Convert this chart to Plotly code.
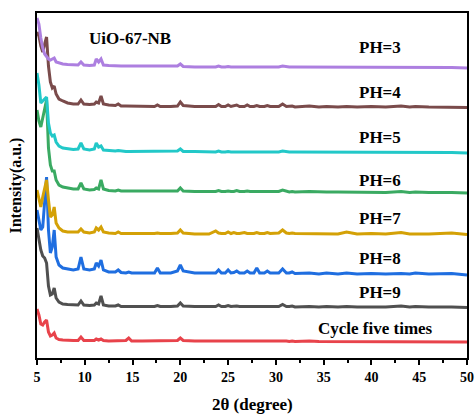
import plotly.graph_objects as go

# 2-theta grid (degrees)
two_theta = [
    5.0, 5.2, 5.4, 5.6, 5.8, 6.0, 6.2, 6.4, 6.6, 6.8,
    7.0, 7.3, 7.7, 8.2, 8.8, 9.3, 9.6, 9.9, 10.5, 11.0,
    11.2, 11.45, 11.7, 11.95, 12.5, 13.2, 13.5, 13.8, 14.3, 14.6,
    14.9, 16.0, 17.3, 17.6, 17.9, 19.0, 19.7, 20.0, 20.3, 21.5,
    23.0, 23.7, 24.0, 24.3, 24.7, 25.0, 25.3, 25.6, 25.9, 26.2,
    26.7, 27.0, 27.3, 27.7, 28.0, 28.3, 28.8, 29.1, 29.4, 30.3,
    30.7, 31.1, 31.4, 31.7, 32.0, 33.5, 34.5, 35.3, 36.5, 37.4,
    38.5, 40.0, 41.5, 43.1, 44.0, 44.6, 46.0, 48.4, 50.0,
]

# intensities (a.u., relative to each pattern's baseline)
ph3 = [
    50, 44, 30, 20, 14, 11, 9, 8, 9, 10,
    6, 5, 4, 3.5, 3, 3, 6, 3, 2.5, 3,
    9, 6, 9, 3, 2.5, 2, 2.5, 2, 2, 2,
    1.5, 1.5, 1.5, 1.5, 1.5, 1.5, 2, 4, 1.5, 1,
    1, 1, 2, 1, 1, 1.5, 1, 1, 1.5, 1,
    1, 1.5, 1, 1, 1, 1, 1, 1, 1, 1,
    2, 1, 1, 1, 1, 1, 0.5, 1, 0.5, 0.5,
    0.5, 0.5, 0.5, 1, 0.5, 0.5, 0.5, 0.5, 0,
]
ph4 = [
    76, 72, 62, 56, 64, 71, 42, 26, 20, 22,
    14, 9, 7, 5, 4, 4, 8, 4, 3.5, 4,
    6, 5, 12, 4, 3, 2.5, 4, 2, 2, 2,
    2, 1.5, 1.5, 3, 1.5, 1.5, 2, 6, 2.5, 1.5,
    1.5, 1.5, 3.5, 1.5, 1.5, 3, 1.5, 2, 3, 1.5,
    1.5, 3, 1.5, 1.5, 2.5, 1.5, 1.5, 2.5, 1.5, 1.5,
    4, 1.5, 1.5, 2, 1, 2, 1, 1.5, 1, 1.5,
    1, 1.5, 1, 2, 1, 1.5, 1, 1, 0.5,
]
ph5 = [
    80, 68, 50, 52, 55, 56, 30, 20, 17, 18,
    11, 7, 5, 4, 3.5, 4, 10, 4, 3, 4,
    10, 6, 7, 3, 2.5, 2, 2.5, 2, 1.5, 1.5,
    1.5, 1.5, 1.5, 2, 1.5, 1.5, 2, 4, 1.5, 1.5,
    1, 1, 2, 1, 1, 1.5, 1, 1, 1.5, 1,
    1, 1.5, 1, 1, 1.5, 1, 1, 1.5, 1, 1,
    2, 1, 1, 1, 1, 1, 0.5, 1, 0.5, 0.5,
    0.5, 0.5, 0.5, 1, 0.5, 0.5, 0.5, 0.5, 0,
]
ph6 = [
    83, 72, 66, 75, 86, 93, 45, 28, 22, 22,
    13, 8, 6, 5, 4, 4, 10, 4, 3, 3.5,
    5, 4, 13, 4, 2.5, 2, 3, 2, 2, 2,
    1.5, 1.5, 1.5, 2, 1.5, 1.5, 2, 5, 2, 1.5,
    1.5, 1.5, 2.5, 1.5, 1.5, 2, 1.5, 1.5, 2.5, 1.5,
    1.5, 2, 1.5, 1.5, 2, 1.5, 1.5, 2, 1.5, 1.5,
    3, 1.5, 1, 1.5, 1, 1.5, 1, 1, 1, 1,
    1, 1, 0.5, 1.5, 0.5, 1, 0.5, 0.5, 0,
]
ph7 = [
    45, 36, 28, 38, 48, 55, 35, 18, 20, 28,
    12, 7, 4, 3, 3, 3, 6, 3, 2, 3,
    7, 5, 8, 3, 2, 1.5, 3, 1.5, 1.5, 1.5,
    1.5, 1, 1.5, 2, 1.5, 1.5, 2, 5, 2, 1,
    1, 4, 2, 1.5, 1.5, 3, 1.5, 2.5, 1.5, 1.5,
    2.5, 1.5, 1.5, 1.5, 2.5, 1.5, 1.5, 2.5, 1.5, 2,
    5, 2, 1.5, 2, 1.5, 1.5, 1, 1.5, 1, 3,
    1, 1.5, 1, 2.5, 1, 1, 1, 2, 0.5,
]
ph8 = [
    65, 55, 45, 48, 75, 98, 45, 22, 28, 45,
    18, 10, 7, 6, 5, 6, 18, 6, 5, 6,
    12, 9, 15, 5, 3, 3, 5, 2.5, 2, 3,
    2, 2, 2, 7, 2, 2, 4, 10, 4, 2,
    1.5, 2, 5, 2, 2, 5, 2, 2.5, 4, 2,
    2, 4, 2, 2, 7, 2, 2, 4, 2, 2,
    6, 2, 2, 3, 1.5, 2, 1, 2, 1, 2,
    1, 1.5, 1, 1.5, 1, 2, 1, 1.5, 0,
]
ph9 = [
    80, 70, 58, 52, 50, 45, 22, 13, 14, 20,
    10, 6, 4, 3.5, 3, 3, 7, 3, 2.5, 3,
    5, 4, 12, 3, 2, 2, 3, 1.5, 1.5, 1.5,
    1.5, 1.5, 1.5, 2.5, 1.5, 1.5, 2, 5, 2, 1.5,
    1.5, 1.5, 3, 1.5, 1.5, 2.5, 1.5, 2, 2, 1.5,
    1.5, 2, 1.5, 1.5, 2, 1.5, 1.5, 2, 1.5, 1.5,
    3.5, 1.5, 1.5, 2, 1, 1.5, 1, 1.5, 1, 1.5,
    1, 1, 1, 2, 1, 1.5, 1, 1, 0.5,
]
cycle5 = [
    33, 27, 18, 17, 20, 22, 10, 6, 7, 9,
    4, 2.5, 2, 1.5, 1.5, 1.5, 5, 1.5, 1.5, 1.5,
    3, 2, 3, 1.5, 1, 1, 1, 1, 1.5, 4,
    1, 1, 1, 1.5, 1, 1, 1.5, 4, 1.5, 1,
    1, 1, 1.5, 1, 1, 1.5, 1, 1, 1, 1,
    1, 1, 1, 1, 1.5, 1, 1, 1, 1, 1,
    1.5, 1, 0.5, 1, 0.5, 1, 0.5, 0.5, 0.5, 0.5,
    0.5, 0.5, 0.5, 0.5, 0.5, 0.5, 0.5, 0.5, 0,
]

labels = ["PH=3", "PH=4", "PH=5", "PH=6", "PH=7", "PH=8", "PH=9", "Cycle five times"]
series = [ph3, ph4, ph5, ph6, ph7, ph8, ph9, cycle5]
offsets = [290, 250, 205, 165, 123, 83, 50, 16]
label_y = [311, 266, 221, 178, 140, 100, 66, 30]
colors = ["#ad7fe0", "#7a4b4b", "#22c8c8", "#3aaa62", "#d4a106", "#1f6ee0", "#505050", "#e8434b"]

for s in series:
    assert len(s) == len(two_theta), (len(s), len(two_theta))

FONT = "Liberation Serif"
fig = go.Figure()
for i in reversed(range(len(series))):
    fig.add_trace(go.Scatter(
        x=two_theta, y=[v + offsets[i] for v in series[i]],
        mode="lines", line=dict(color=colors[i], width=3),
        name=labels[i], showlegend=False,
    ))

for i, lab in enumerate(labels):
    fig.add_annotation(x=40.9 if i < 7 else 40.4, y=label_y[i], text=lab, showarrow=False,
                       font=dict(family=FONT, size=17, color="black", weight="bold"))

fig.add_annotation(x=14.7, y=320, text="UiO-67-NB", showarrow=False,
                   font=dict(family=FONT, size=17, color="black", weight="bold"))
fig.add_annotation(xref="paper", yref="paper", x=0.5, y=-0.136, text="2θ (degree)",
                   xanchor="center", yanchor="middle",
                   showarrow=False, font=dict(family=FONT, size=17, color="black", weight="bold"))
fig.add_annotation(xref="paper", yref="paper", x=-0.051, y=0.5, text="Intensity(a.u.)",
                   xanchor="center", yanchor="middle",
                   textangle=-90, showarrow=False,
                   font=dict(family=FONT, size=16, color="black", weight="bold"))

fig.update_layout(
    width=475, height=417,
    margin=dict(l=37, r=8, t=13, b=59),
    plot_bgcolor="white", paper_bgcolor="white",
    xaxis=dict(range=[5, 50], tickvals=[5, 10, 15, 20, 25, 30, 35, 40, 45, 50],
               automargin=False,
               showline=True, linecolor="black", linewidth=2, mirror=True,
               ticks="outside", ticklen=5, tickwidth=1.5, tickcolor="black",
               minor=dict(tickvals=[7.5, 12.5, 17.5, 22.5, 27.5, 32.5, 37.5, 42.5, 47.5],
                          ticks="outside", ticklen=3, tickcolor="black", tickwidth=1.5),
               showgrid=False, zeroline=False,
               tickfont=dict(family=FONT, size=14, color="black", weight="bold")),
    yaxis=dict(range=[0, 345], showticklabels=False, ticks="", automargin=False,
               showline=True, linecolor="black", linewidth=2, mirror=True,
               showgrid=False, zeroline=False),
)

fig.write_html("out.html")
